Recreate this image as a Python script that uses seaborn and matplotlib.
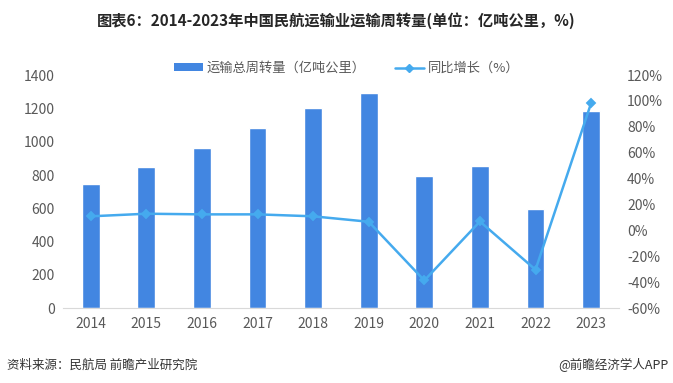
import numpy as np
import pandas as pd
import matplotlib
matplotlib.use('Agg')
import matplotlib.pyplot as plt
import seaborn as sns
from matplotlib.lines import Line2D
from matplotlib.patches import Patch

# 数据
years = ['2014', '2015', '2016', '2017', '2018', '2019', '2020', '2021', '2022', '2023']
volume = [745, 850, 960, 1080, 1205, 1290, 797, 852, 598, 1187]      # 亿吨公里
growth = [11.0, 13.0, 12.5, 12.5, 11.0, 6.8, -38.5, 7.0, -30.2, 98.3]  # %
left_ticks = [0, 200, 400, 600, 800, 1000, 1200, 1400]
right_ticks = [-60, -40, -20, 0, 20, 40, 60, 80, 100, 120]

BAR_COLOR = '#4286E1'
LINE_COLOR = '#45AAEE'
TICK_COLOR = '#595959'

sns.set_style('white')
plt.rcParams['font.family'] = ['Noto Sans CJK SC', 'DejaVu Sans']
plt.rcParams['axes.unicode_minus'] = False

df = pd.DataFrame({'year': years, 'volume': volume, 'growth': growth})

fig = plt.figure(figsize=(6.73, 3.83), dpi=100)
ax = fig.add_axes([0.0936, 0.195, 0.826, 0.609])

sns.barplot(data=df, x='year', y='volume', color=BAR_COLOR, width=0.32,
            saturation=1, ax=ax)
ax.set_ylim(0, 1400)
ax.set_yticks(left_ticks)
ax.set_xlim(-0.5, len(years) - 0.5)
ax.set_xlabel('')
ax.set_ylabel('')
for s in ['top', 'right', 'left']:
    ax.spines[s].set_visible(False)
ax.spines['bottom'].set_color('#D9D9D9')
ax.tick_params(axis='both', length=0, labelsize=10, colors=TICK_COLOR, pad=6)

ax2 = ax.twinx()
sns.pointplot(data=df, x='year', y='growth', color=LINE_COLOR, markers='D',
              markersize=4.5, linewidth=1.8, ax=ax2)
ax2.set_ylim(-60, 120)
ax2.set_yticks(right_ticks)
ax2.set_yticklabels([f'{t}%' for t in right_ticks])
ax2.set_xlim(-0.5, len(years) - 0.5)
ax2.set_ylabel('')
ax2.set_xlabel('')
for s in ax2.spines.values():
    s.set_visible(False)
ax2.tick_params(axis='y', length=0, labelsize=10, colors=TICK_COLOR, pad=6)

handles = [Patch(facecolor=BAR_COLOR, edgecolor='none'),
           Line2D([0], [0], color=LINE_COLOR, lw=1.8, marker='D', markersize=4)]
fig.legend(handles, ['运输总周转量（亿吨公里）', '同比增长（%）'],
           loc='center', bbox_to_anchor=(0.515, 0.822), ncol=2, frameon=False,
           fontsize=9.5, labelcolor=TICK_COLOR, handlelength=2.2, handleheight=0.45,
           handletextpad=0.3, columnspacing=2.2)

fig.text(0.5, 0.945, '图表6：2014-2023年中国民航运输业运输周转量(单位：亿吨公里，%)',
         ha='center', va='center', fontsize=11, fontweight='bold', color='#262626')
fig.text(0.01, 0.047, '资料来源：民航局 前瞻产业研究院', ha='left', va='center',
         fontsize=9, color='#333333')
fig.text(0.993, 0.047, '@前瞻经济学人APP', ha='right', va='center',
         fontsize=9, color='#333333')

fig.savefig('out.png', dpi=100)
